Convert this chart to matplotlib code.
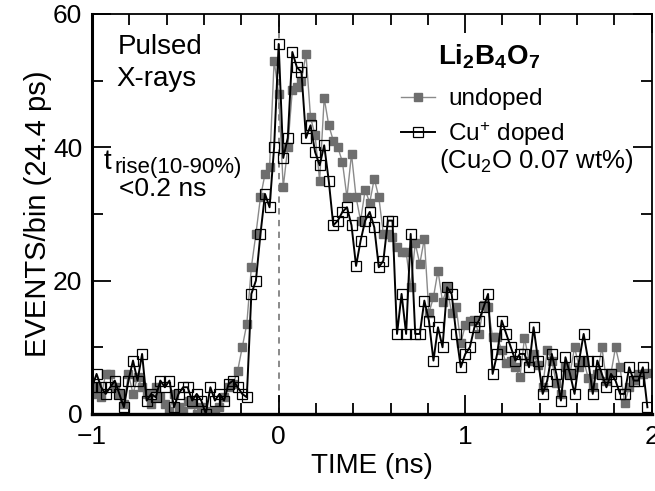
import numpy as np
import matplotlib
matplotlib.use("Agg")
import matplotlib.pyplot as plt
from matplotlib.lines import Line2D

plt.rcParams['font.family'] = ['Liberation Sans', 'DejaVu Sans']
plt.rcParams['mathtext.default'] = 'regular'

bin_ns = 0.0244
t_start = -1.0
undoped = [3, 4, 2.5, 6, 6, 4, 3, 1.5, 6, 3, 5.5, 4, 3, 1.5, 4, 2.5, 1.5, 0.5, 3, 1,
           0.5, 2, 1.5, 0, 1, 0.5, 0, 0.5, 1, 2.5, 4, 4.5, 6.5, 10, 13.5, 22, 27, 32.5, 36, 37,
           53, 48, 34, 40, 48.6, 49, 50, 54, 44.5, 41.8, 35, 47.4, 43.3, 41, 40, 37.8, 32.5, 39, 32.5, 29,
           33.6, 31.7, 35.3, 32.5, 27, 27, 26.5, 25, 24.3, 24.3, 19, 25.6, 22.5, 26.3, 15.1, 17.5, 21.5, 16.8, 19, 15.1,
           16, 10.6, 13.3, 14, 14.1, 12, 16.3, 16, 11.5, 11.5, 9.6, 7.6, 8, 7, 5.5, 11.4, 8, 9, 7.3, 4,
           9.6, 8, 4.6, 3, 7, 6, 10, 7, 8, 5.4, 4, 6, 10, 5, 6.1, 10, 7, 1.6, 4, 5.1,
           6, 6, 6.1]
cu_doped = [4, 6, 4, 3, 4, 5, 3, 1, 5, 8, 5, 9, 2, 3, 2.5, 5, 4, 5, 1, 3,
            4, 4, 2, 3, 2, 0, 4, 2, 3, 2, 4.5, 5, 4, 3, 2.5, 18, 20, 27, 33, 31,
            40, 55.5, 38.4, 41.4, 54.3, 52, 51.3, 41.4, 43.3, 39.3, 37.3, 40.3, 35, 28.3, 29, 30.3, 31, 28.3, 22.2, 26,
            29, 30.3, 28, 22, 23, 29, 29, 12, 18, 12, 27, 12, 12, 17, 14, 8, 13, 10, 19, 18,
            12, 7, 9, 10, 13, 14, 16, 18, 6, 9, 14, 12, 10, 8, 9, 9, 7, 13, 8, 3,
            5, 9, 6, 2, 8.5, 6, 3, 8, 12, 8, 3, 8, 6, 4, 6, 5, 3, 3, 7, 5,
            5, 7, 1]

t = t_start + bin_ns * np.arange(len(undoped))

fig = plt.figure(figsize=(6.55, 4.91), dpi=100)
ax = fig.add_axes([0.1405, 0.157, 0.8545, 0.8145])

gray = '#6e6e6e'
ax.axvline(0, color='#808080', ls=(0, (3.5, 3)), lw=1.3, zorder=1)
ax.plot(t, undoped, '-', color='#8a8a8a', lw=1.0, marker='s', ms=5.2,
        mfc=gray, mec=gray, zorder=2)
ax.plot(t, cu_doped, '-', color='black', lw=1.4, marker='s', ms=6.5,
        mfc='none', mec='black', mew=0.9, zorder=3)

ax.set_xlim(-1, 2)
ax.set_ylim(0, 60)
ax.set_xticks([-1, 0, 1, 2])
ax.set_xticks(np.arange(-1, 2.01, 0.2), minor=True)
ax.set_yticks([0, 20, 40, 60])
ax.set_yticks([10, 30, 50], minor=True)
ax.tick_params(which='both', direction='in', top=True, right=True, width=1.3,
               labelsize=19)
ax.tick_params(axis='x', which='both', pad=8)
ax.tick_params(axis='y', which='both', pad=7)
ax.tick_params(which='major', length=14)
ax.tick_params(which='minor', length=8)
for s in ax.spines.values():
    s.set_linewidth(1.3)
ax.spines['bottom'].set_linewidth(2.4)
ax.spines['left'].set_linewidth(2.2)

ax.set_xlabel('TIME (ns)', fontsize=20, labelpad=3)
ax.set_ylabel('EVENTS/bin (24.4 ps)', fontsize=21, labelpad=1)

ax.text(-0.86, 55.0, 'Pulsed', fontsize=20, va='center', ha='left')
ax.text(-0.87, 50.2, 'X-rays', fontsize=20, va='center', ha='left')
ax.text(-0.94, 37.8, 't', fontsize=20, va='center', ha='left')
ax.text(-0.877, 37.0, 'rise(10-90%)', fontsize=16, va='center', ha='left')
ax.text(-0.855, 33.8, '<0.2 ns', fontsize=19, va='center', ha='left')

ax.text(0.855, 53.6, r'Li$_2$B$_4$O$_7$', fontsize=20, fontweight='bold', va='center', ha='left')
h1 = Line2D([], [], color='#8a8a8a', lw=1.0, marker='s', ms=5.2, mfc=gray, mec=gray)
h2 = Line2D([], [], color='black', lw=1.4, marker='s', ms=6.5, mfc='none', mec='black', mew=0.9)
ax.legend([h1, h2], ['undoped', r'Cu$^{+}$ doped'], loc='upper left',
          bbox_to_anchor=(0.53, 0.845), frameon=False, fontsize=17.5,
          handlelength=1.4, handletextpad=0.55, labelspacing=0.4, borderpad=0)
ax.text(0.86, 38.0, r'(Cu$_2$O 0.07 wt%)', fontsize=18.5, va='center', ha='left')

fig.savefig('out.png', dpi=100)
